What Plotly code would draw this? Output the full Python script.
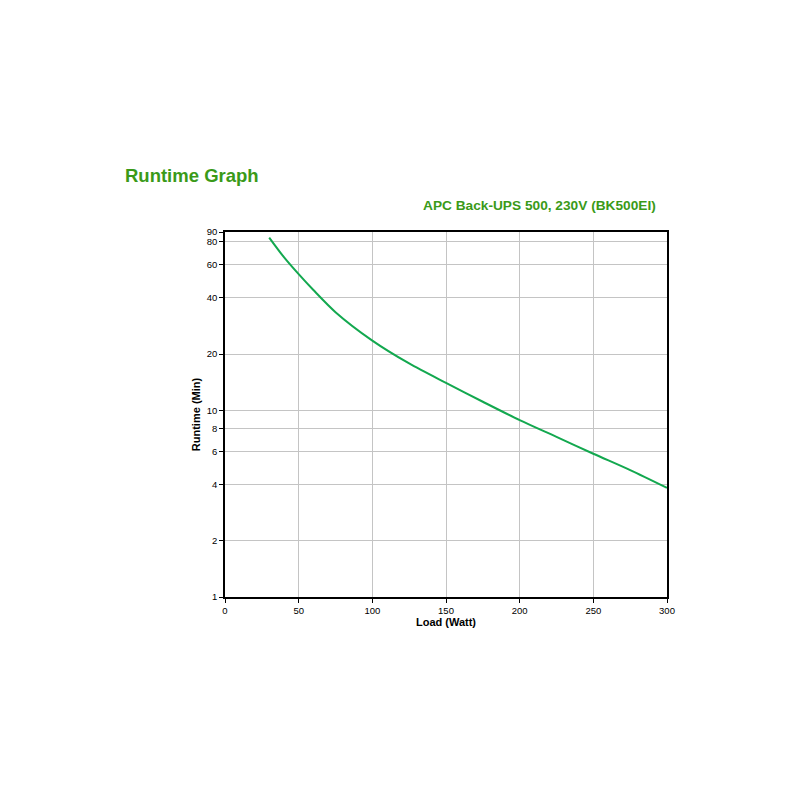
import math
import plotly.graph_objects as go

# Runtime readings taken off the reference curve
load_watt = [30, 40, 50, 60, 75, 100, 125, 150, 175, 200, 225, 250, 275, 300]
runtime_min = [84, 66, 53.5, 44, 33.5, 23.6, 17.8, 14, 11.1, 8.85, 7.2, 5.85, 4.78, 3.84]

x_ticks = [0, 50, 100, 150, 200, 250, 300]
y_ticks = [1, 2, 4, 6, 8, 10, 20, 40, 60, 80, 90]

green_title = "#3a9a18"

fig = go.Figure(go.Scatter(
    x=load_watt,
    y=runtime_min,
    mode="lines",
    line=dict(color="#13a84f", width=2, shape="spline", smoothing=0.8),
    hoverinfo="skip",
))

# page body adds about 8px, so margins are shifted to compensate
fig.update_layout(
    width=800,
    height=800,
    margin=dict(l=217, r=141, t=224, b=211),
    paper_bgcolor="white",
    plot_bgcolor="white",
    showlegend=False,
    font=dict(family="Liberation Sans, Arial, sans-serif", color="black", size=9.5),
)

fig.update_xaxes(
    range=[0, 300],
    tickvals=x_ticks,
    showgrid=True,
    gridcolor="#c4c4c4",
    gridwidth=1,
    zeroline=False,
    showline=True,
    linecolor="black",
    linewidth=1.5,
    mirror=True,
    ticks="outside",
    ticklen=4,
    tickcolor="black",
    title=dict(text="<b>Load (Watt)</b>", font=dict(size=11), standoff=3),
)

fig.update_yaxes(
    type="log",
    range=[0, math.log10(90)],
    tickvals=y_ticks,
    ticktext=[str(v) for v in y_ticks],
    showgrid=True,
    gridcolor="#c4c4c4",
    gridwidth=1,
    zeroline=False,
    showline=True,
    linecolor="black",
    linewidth=1.5,
    mirror=True,
    ticks="outside",
    ticklen=4,
    tickcolor="black",
    title=dict(text="<b>Runtime (Min)</b>", font=dict(size=11), standoff=4),
)

fig.add_annotation(
    text="<b>Runtime Graph</b>", xref="paper", yref="paper",
    x=-102 / 442, y=1 + 57 / 365, xanchor="left", yanchor="middle",
    showarrow=False, font=dict(size=18.5, color=green_title),
)
fig.add_annotation(
    text="<b>APC Back-UPS 500, 230V (BK500EI)</b>", xref="paper", yref="paper",
    x=1 - 9 / 442, y=1 + 27 / 365, xanchor="right", yanchor="middle",
    showarrow=False, font=dict(size=13.7, color=green_title),
)

fig.write_html("out.html")
